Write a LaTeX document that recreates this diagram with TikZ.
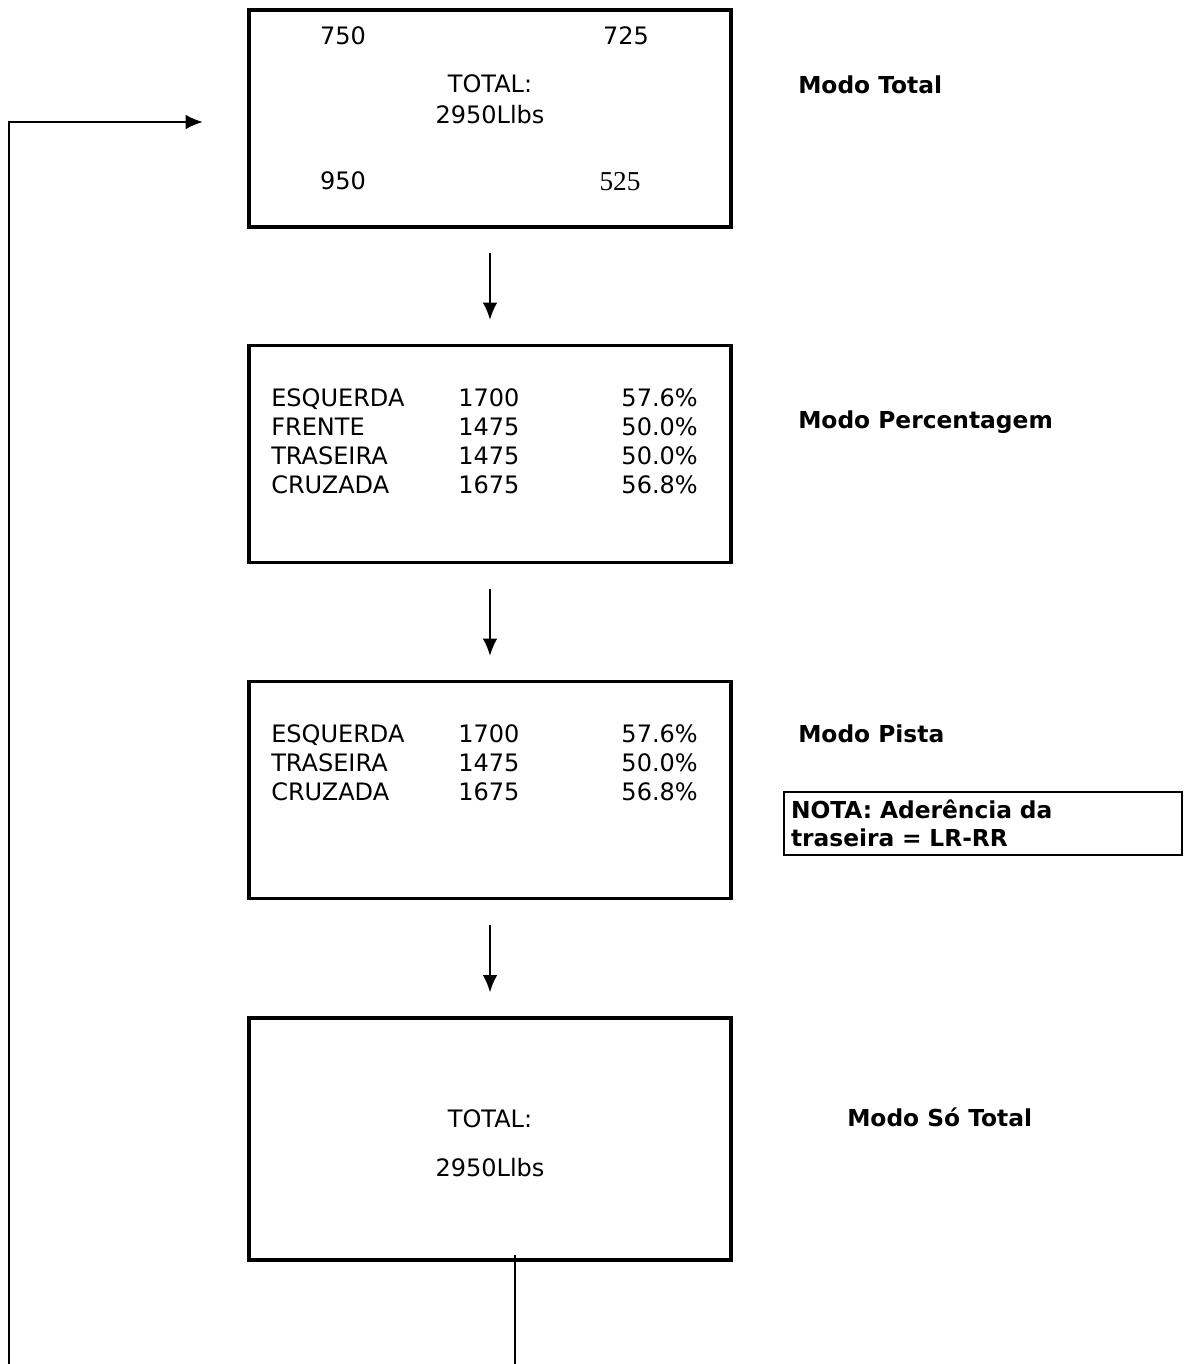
\documentclass[tikz,border=0pt]{standalone}
\usepackage{fontspec}
\setmainfont{DejaVu Sans}
\newfontfamily\numserif{Liberation Serif}
\usetikzlibrary{arrows.meta, positioning}

\begin{document}
\begin{tikzpicture}[x=0.75pt, y=-0.75pt,
  every node/.style={inner sep=0pt},
  screen/.style={draw, line width=2.4pt, minimum width=361.5pt, minimum height=162.75pt},
  txt/.style={font=\fontsize{18}{21.75}\selectfont},
  mode/.style={font=\fontsize{17.5}{20}\selectfont\bfseries, anchor=base west},
  flow/.style={line width=1.6pt, -{Latex[length=13pt, width=11pt]}}]
\useasboundingbox (0,0) rectangle (1183,1364);

% the four screens
\node[screen] (total) at (490,118.5) {};
\node[screen] (pct) at (490,454) {};
\node[screen] (pista) at (490,790) {};
\node[screen, minimum height=181.5pt] (sototal) at (490,1139) {};

% Modo Total
\node[txt, anchor=base] (lf) at (343,44) {750};
\node[txt, anchor=base] (rf) at (626,44) {725};
\node[txt, anchor=base] (tot1) at (490,92) {TOTAL:};
\node[txt, anchor=base] (lbs1) at (490,123) {2950Llbs};
\node[txt, anchor=base] (lr) at (343,189) {950};
\node[txt, anchor=base, font=\fontsize{20.5}{22}\selectfont\numserif] (rr) at (620,190) {525};

% Modo Percentagem
\foreach \lab/\num/\pc [count=\i] in {ESQUERDA/1700/57.6\%, FRENTE/1475/50.0\%,
    TRASEIRA/1475/50.0\%, CRUZADA/1675/56.8\%}{
  \node[txt, anchor=base west] (pct-l\i) at (271,{376.8+29.2*\i}) {\lab};
  \node[txt, anchor=base west] (pct-n\i) at (458,{376.8+29.2*\i}) {\num};
  \node[txt, anchor=base east] (pct-p\i) at (698,{376.8+29.2*\i}) {\pc};
}

% Modo Pista
\foreach \lab/\num/\pc [count=\i] in {ESQUERDA/1700/57.6\%, TRASEIRA/1475/50.0\%,
    CRUZADA/1675/56.8\%}{
  \node[txt, anchor=base west] (pis-l\i) at (271,{712.8+29.2*\i}) {\lab};
  \node[txt, anchor=base west] (pis-n\i) at (458,{712.8+29.2*\i}) {\num};
  \node[txt, anchor=base east] (pis-p\i) at (698,{712.8+29.2*\i}) {\pc};
}

% Modo So Total
\node[txt, anchor=base] (tot2) at (490,1127) {TOTAL:};
\node[txt, anchor=base] (lbs2) at (490,1176) {2950Llbs};

% mode names
\node[mode] (m-total) at (798,93) {Modo Total};
\node[mode] (m-pct) at (798,428) {Modo Percentagem};
\node[mode] (m-pista) at (798,742) {Modo Pista};
\node[mode] (m-so) at (847,1126) {Modo Só Total};

\node[draw, line width=1.5pt, anchor=north west, minimum width=298.5pt,
  minimum height=47.25pt, text width=288pt, align=left, inner xsep=5pt,
  font=\fontsize{17.5}{21}\selectfont\bfseries] (note) at (783,791)
  {NOTA: Aderência da\\traseira = LR-RR};

% arrows
\draw[flow, shorten <=18.5pt, shorten >=18pt] (total.south) -- (pct.north);
\draw[flow, shorten <=18.5pt, shorten >=18pt] (pct.south) -- (pista.north);
\draw[flow, shorten <=18.5pt, shorten >=18pt] (pista.south) -- (sototal.north);

% back to the first mode
\coordinate (exit) at (515,1255);
\coordinate (loopout) at (515,1364);
\coordinate (loopin) at (9,1364);
\coordinate (entry) at (203,122);
\draw[line width=0.8pt] (exit) -- (loopout);
\draw[flow] (loopin) |- (entry);
\end{tikzpicture}
\end{document}
